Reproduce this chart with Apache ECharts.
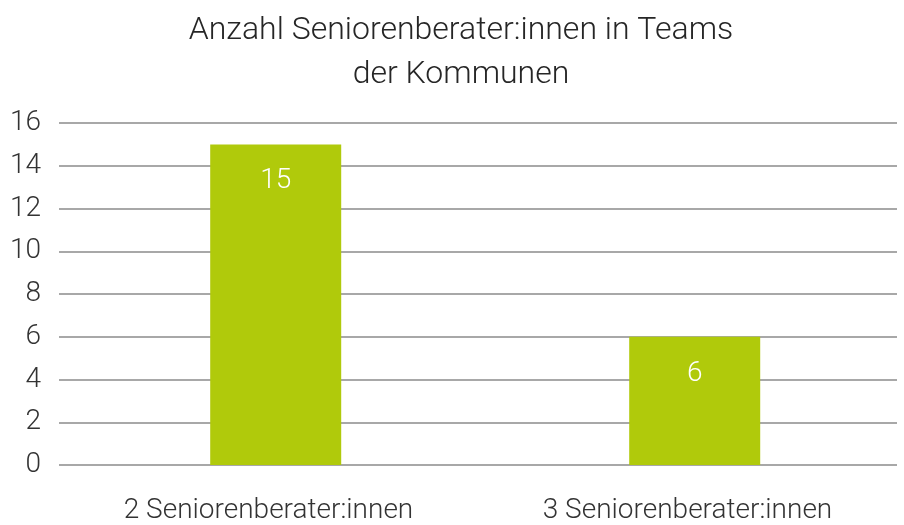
<!DOCTYPE html>
<html>
<head>
<meta charset="utf-8">
<script src="https://cdn.jsdelivr.net/npm/echarts@6/dist/echarts.min.js"></script>
<style>
  html, body { margin: 0; padding: 0; background: #fff; }
  #chart { width: 904px; height: 525px; }
</style>
</head>
<body>
<div id="chart"></div>
<script>
const titleText = 'Anzahl Seniorenberater:innen in Teams\nder Kommunen';
const categories = ['2 Seniorenberater:innen', '3 Seniorenberater:innen'];
const teamCounts = [15, 6];
const yTicks = { min: 0, max: 16, interval: 2 };

const font = 'Roboto, "Open Sans", sans-serif';
const textColor = '#333333';

var chart = echarts.init(document.getElementById('chart'));

var option = {
  animation: false,
  title: {
    text: titleText,
    left: 456,
    textAlign: 'center',
    top: 4,
    textStyle: {
      fontFamily: font,
      fontWeight: 300,
      fontSize: 32,
      lineHeight: 44,
      color: '#262626'
    }
  },
  grid: { left: 59, right: 7, top: 123, bottom: 60 },
  xAxis: {
    type: 'category',
    data: categories,
    axisLine: { show: false },
    axisTick: { show: false },
    axisLabel: {
      margin: 32,
      fontFamily: font,
      fontWeight: 300,
      fontSize: 28,
      color: textColor
    }
  },
  yAxis: {
    type: 'value',
    min: yTicks.min,
    max: yTicks.max,
    interval: yTicks.interval,
    axisLine: { show: false },
    axisTick: { show: false },
    axisLabel: {
      margin: 18,
      fontFamily: font,
      fontWeight: 300,
      fontSize: 28,
      color: textColor
    },
    splitLine: { lineStyle: { color: '#a8a8a8', width: 2 } }
  },
  series: [
    {
      // empty spacer, shifts the real bars slightly to the right like the original
      type: 'bar',
      data: categories.map(() => null),
      barWidth: 131,
      barGap: '-89%',
      silent: true
    },
    {
      type: 'bar',
      data: teamCounts,
      barWidth: 131,
      barGap: '-89%',
      itemStyle: { color: '#b0ca0b' },
      label: {
        show: true,
        position: 'insideTop',
        distance: 23,
        fontFamily: font,
        fontWeight: 300,
        fontSize: 28,
        color: '#ffffff'
      }
    }
  ]
};

chart.setOption(option);
</script>
</body>
</html>
